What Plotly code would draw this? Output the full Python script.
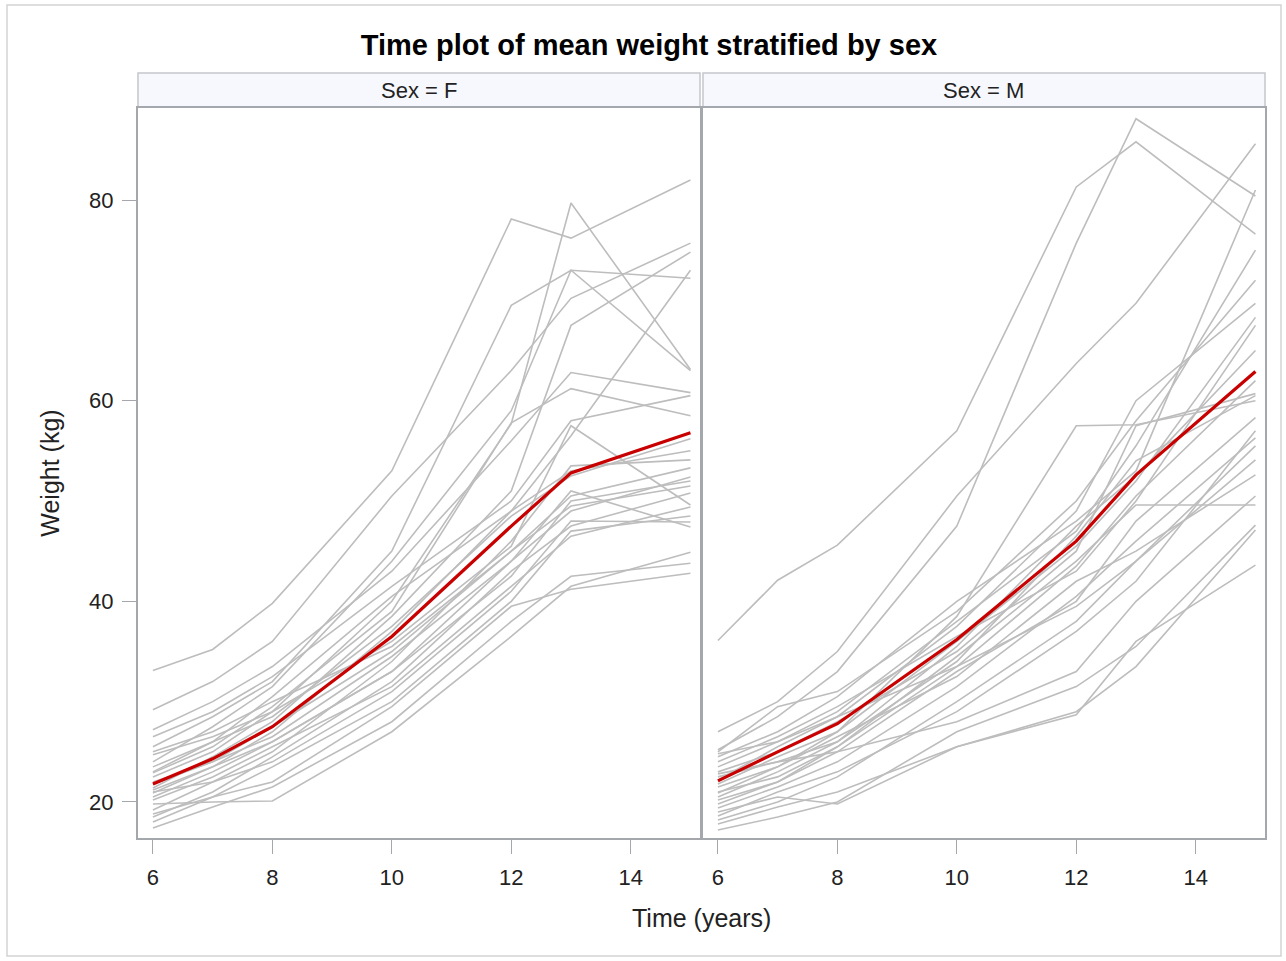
import plotly.graph_objects as go

# Measurement occasions (years)
times = [6, 7, 8, 10, 12, 13, 15]

# Individual weight profiles (kg), girls
girls = [
    [33.1, 35.2, 39.8, 53.0, 78.1, 76.2, 82.0],
    [22.5, 25.0, 29.0, 40.0, 57.7, 79.7, 63.1],
    [25.5, 28.5, 32.0, 45.0, 69.5, 73.0, 72.2],
    [24.0, 27.5, 31.5, 44.0, 59.0, 73.0, 63.0],
    [29.2, 32.0, 36.0, 50.5, 63.0, 70.2, 75.7],
    [21.4, 24.5, 28.0, 38.5, 51.0, 67.5, 74.8],
    [20.9, 23.5, 27.0, 37.0, 49.0, 56.5, 73.0],
    [27.2, 30.0, 33.5, 43.0, 56.0, 62.8, 60.8],
    [22.9, 25.5, 29.5, 39.0, 57.8, 61.2, 58.5],
    [26.5, 29.0, 32.5, 41.5, 50.0, 58.0, 60.5],
    [23.5, 26.0, 28.5, 37.5, 48.5, 52.5, 56.2],
    [19.2, 22.0, 25.0, 34.0, 46.0, 53.5, 54.1],
    [25.0, 27.0, 30.0, 35.5, 45.0, 50.5, 53.3],
    [20.5, 23.0, 26.0, 33.0, 44.0, 49.0, 52.4],
    [18.5, 21.0, 24.5, 32.0, 43.0, 47.5, 50.8],
    [24.7, 26.5, 29.0, 36.0, 45.5, 57.5, 49.6],
    [20.2, 22.5, 25.5, 31.5, 41.5, 46.5, 49.4],
    [18.0, 20.5, 23.5, 30.0, 40.0, 47.0, 48.5],
    [22.0, 24.0, 26.5, 34.5, 44.0, 51.0, 47.4],
    [19.8, 20.0, 20.1, 27.0, 36.5, 41.5, 44.9],
    [17.4, 19.5, 21.5, 28.0, 38.0, 42.5, 43.8],
    [18.8, 20.5, 22.0, 29.5, 39.5, 41.2, 42.8],
    [21.8, 24.0, 27.5, 35.0, 45.0, 49.5, 51.5],
    [23.0, 26.0, 30.5, 40.5, 49.0, 53.0, 55.0],
    [21.0, 22.0, 24.0, 31.0, 41.0, 48.0, 47.9],
    [21.2, 23.5, 26.0, 33.0, 42.5, 50.0, 52.0],
]

# Individual weight profiles (kg), boys
boys = [
    [36.1, 42.1, 45.6, 57.0, 81.3, 85.8, 76.6],
    [25.2, 28.5, 33.0, 47.5, 75.7, 88.1, 80.4],
    [27.0, 30.0, 35.0, 50.5, 63.7, 69.7, 85.6],
    [24.5, 27.0, 30.5, 40.0, 48.0, 53.0, 81.0],
    [23.5, 26.0, 29.0, 38.0, 47.0, 55.5, 75.0],
    [25.0, 29.5, 31.0, 39.0, 50.0, 58.0, 72.0],
    [22.2, 25.5, 28.5, 37.5, 49.0, 60.0, 69.7],
    [20.9, 23.5, 27.0, 36.0, 45.5, 52.0, 68.3],
    [24.0, 26.5, 29.5, 36.5, 43.0, 50.0, 67.5],
    [23.0, 25.0, 28.0, 35.0, 45.0, 57.5, 60.7],
    [22.5, 24.0, 26.0, 34.0, 46.5, 54.0, 60.5],
    [21.8, 24.5, 27.0, 38.5, 57.5, 57.6, 60.0],
    [20.2, 22.0, 25.0, 33.0, 40.0, 48.0, 58.3],
    [19.4, 21.5, 24.0, 31.5, 40.5, 46.0, 56.3],
    [18.2, 20.0, 22.5, 30.0, 38.0, 44.0, 54.1],
    [21.5, 23.5, 26.5, 32.5, 42.0, 45.0, 52.6],
    [21.0, 22.5, 25.5, 34.5, 44.0, 49.6, 49.6],
    [17.2, 18.5, 20.0, 27.0, 31.5, 35.5, 47.6],
    [19.0, 20.5, 19.8, 25.5, 29.0, 33.5, 47.1],
    [17.8, 19.5, 21.0, 25.5, 28.7, 36.0, 43.6],
    [20.5, 23.0, 26.0, 35.5, 47.5, 52.5, 65.0],
    [19.8, 22.0, 25.5, 33.5, 43.5, 50.5, 62.0],
    [18.6, 21.0, 23.0, 29.0, 37.0, 42.0, 57.0],
    [22.8, 24.0, 25.0, 28.0, 33.0, 40.0, 50.5],
    [24.8, 26.0, 28.5, 33.5, 39.5, 44.0, 55.5],
]

# Mean weight profile per sex (kg)
mean_girls = [21.8, 24.3, 27.5, 36.5, 47.5, 52.8, 56.8]
mean_boys = [22.1, 25.0, 27.8, 36.2, 46.0, 52.6, 62.9]

panel_labels = ["Sex = F", "Sex = M"]
x_ticks = [6, 8, 10, 12, 14]
y_ticks = [20, 40, 60, 80]

FONT = "Arial, Liberation Sans, sans-serif"
GRAY_LINE = "#BDBDBD"
MEAN_RED = "#C80000"
FRAME = "#A4A7AB"
TEXT = "#222222"

fig = go.Figure()

for xa, ya, subjects, mean in (("x", "y", girls, mean_girls), ("x2", "y2", boys, mean_boys)):
    for w in subjects:
        fig.add_trace(go.Scatter(
            x=times, y=w, mode="lines", xaxis=xa, yaxis=ya,
            line=dict(color=GRAY_LINE, width=1.6), hoverinfo="skip", showlegend=False,
        ))
    fig.add_trace(go.Scatter(
        x=times, y=mean, mode="lines", xaxis=xa, yaxis=ya,
        line=dict(color=MEAN_RED, width=3.2), showlegend=False,
    ))

W, H = 1286, 961
L, R, T, B = 138, 21, 108, 123
plot_w = W - L - R
plot_h = H - T - B
split_left = (700 - L) / plot_w
split_right = (703 - L) / plot_w

x_common = dict(
    range=[5.75, 15.16], tickvals=x_ticks, ticks="outside", ticklen=14, tickcolor=FRAME,
    ticklabelstandoff=5,
    showline=True, mirror=True, linecolor=FRAME, linewidth=2, showgrid=False, zeroline=False,
    tickfont=dict(family=FONT, size=22, color=TEXT),
)
y_common = dict(
    range=[16.41, 89.17], showline=True, mirror=True, linecolor=FRAME, linewidth=2,
    showgrid=False, zeroline=False,
)

fig.update_layout(
    width=W, height=H,
    margin=dict(l=L, r=R, t=T, b=B),
    paper_bgcolor="white", plot_bgcolor="white",
    showlegend=False,
    xaxis=dict(domain=[0, split_left], anchor="y", **x_common),
    xaxis2=dict(domain=[split_right, 1], anchor="y2", **x_common),
    yaxis=dict(
        domain=[0, 1], anchor="x", tickvals=y_ticks, ticks="outside", ticklen=14,
        ticklabelstandoff=4,
        tickcolor=FRAME, tickfont=dict(family=FONT, size=22, color=TEXT),
        title=dict(text="Weight (kg)", font=dict(family=FONT, size=25, color=TEXT), standoff=22),
        **y_common,
    ),
    yaxis2=dict(domain=[0, 1], anchor="x2", matches="y", showticklabels=False, ticks="", **y_common),
    title=dict(
        text="<b>Time plot of mean weight stratified by sex</b>",
        x=649 / W, xref="container", xanchor="center", y=1 - 45 / H, yanchor="middle",
        font=dict(family=FONT, size=29, color="#000000"),
    ),
)

# Common x-axis title centred under both panels
fig.add_annotation(
    text="Time (years)", x=0.5, xref="paper", y=(838 - 918) / plot_h, yref="paper",
    xanchor="center", yanchor="middle", showarrow=False,
    font=dict(family=FONT, size=25, color=TEXT),
)

# Panel header strips
strip_lo = 1 + 1 / plot_h
strip_hi = 1 + 35 / plot_h
for (x0, x1), label in zip(((0, split_left), (split_right, 1)), panel_labels):
    fig.add_shape(
        type="rect", xref="paper", yref="paper", x0=x0, x1=x1, y0=strip_lo, y1=strip_hi,
        fillcolor="#F7F8FD", line=dict(color="#C4C6CA", width=1.5), layer="below",
    )
    fig.add_annotation(
        text=label, x=(x0 + x1) / 2, xref="paper", y=(strip_lo + strip_hi) / 2, yref="paper",
        xanchor="center", yanchor="middle", showarrow=False,
        font=dict(family=FONT, size=22, color=TEXT),
    )

# Thin outer frame around the whole graphic
fig.add_shape(
    type="rect", xref="paper", yref="paper",
    x0=(7 - L) / plot_w, x1=(1281 - L) / plot_w,
    y0=(838 - 956) / plot_h, y1=(838 - 5) / plot_h,
    line=dict(color="#D3D3D3", width=1.5), fillcolor="rgba(0,0,0,0)", layer="below",
)

fig.write_html("out.html")
